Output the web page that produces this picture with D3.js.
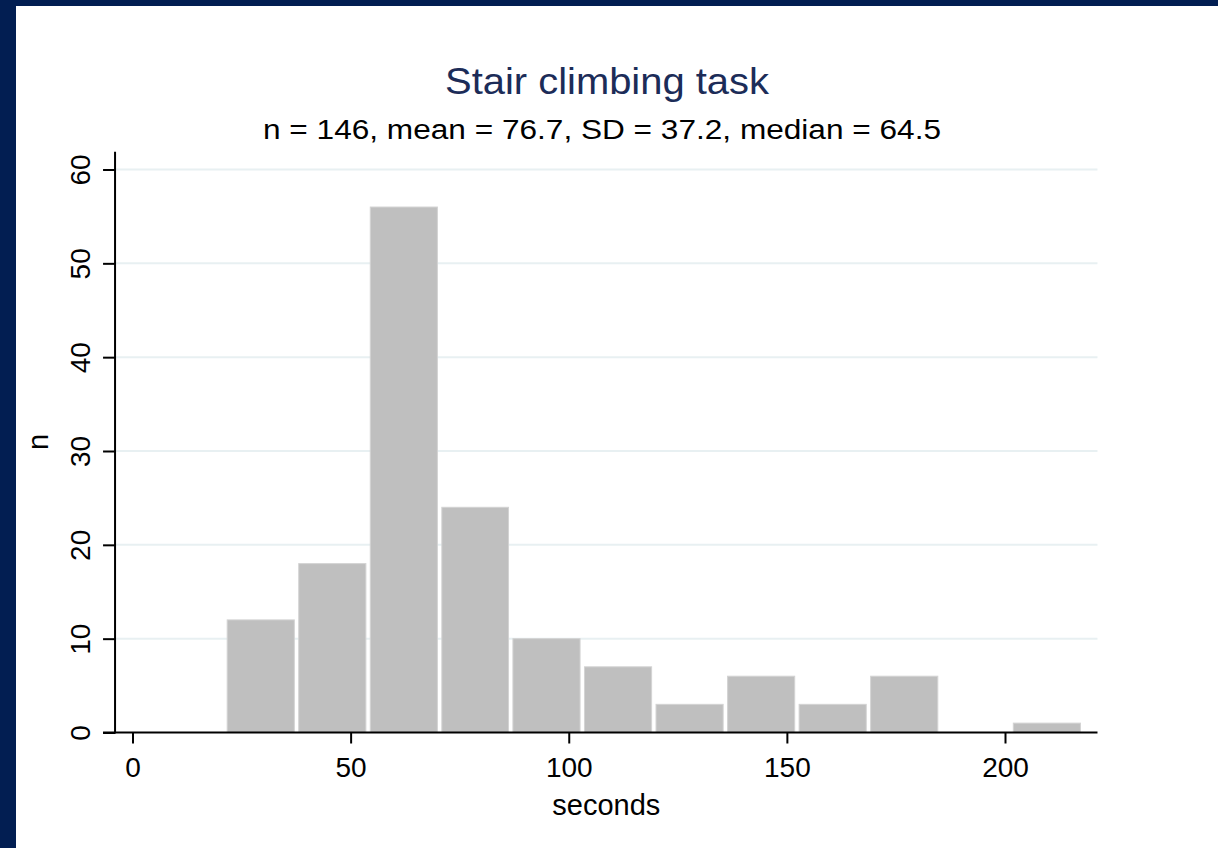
<!DOCTYPE html>
<html>
<head>
<meta charset="utf-8">
<script src="https://cdn.jsdelivr.net/npm/d3@7"></script>
<style>
  body { margin: 0; background: #ffffff; }
  text { font-family: "Liberation Sans", Arial, sans-serif; }
</style>
</head>
<body>
<div id="chart"></div>
<script>
// histogram bins (seconds) and counts
const binEdges = [21.2, 37.6, 54.0, 70.4, 86.7, 103.1, 119.5, 135.9, 152.3, 168.7, 185.1, 201.4, 217.8];
const counts = [12, 18, 56, 24, 10, 7, 3, 6, 3, 6, 0, 1];
const xTicks = [0, 50, 100, 150, 200];
const yTicks = [0, 10, 20, 30, 40, 50, 60];
const title = "Stair climbing task";
const subtitle = "n = 146, mean = 76.7, SD = 37.2, median = 64.5";

window.onload = function () {
    drawHistogram();
};

function drawHistogram() {
    let width = 1218, height = 848;

    let svg = d3.select("#chart")
        .append("svg")
        .attr("width", width)
        .attr("height", height);

    // navy frame on the left and top
    svg.append("rect").attr("x", 0).attr("y", 0).attr("width", width).attr("height", height).attr("fill", "#021e52");
    svg.append("rect").attr("x", 16).attr("y", 6).attr("width", width - 16).attr("height", height - 6).attr("fill", "#ffffff");

    let x = d3.scaleLinear().domain([0, 200]).range([132.5, 1005]);
    let y = d3.scaleLinear().domain([0, 60]).range([732.5, 169.5]);

    let left = x(-4), right = x(221.2);

    // grid lines
    svg.append("g")
        .selectAll("line")
        .data(yTicks.filter(function (d) { return d > 0; }))
        .enter()
        .append("line")
        .attr("x1", left)
        .attr("x2", right)
        .attr("y1", function (d) { return y(d); })
        .attr("y2", function (d) { return y(d); })
        .attr("stroke", "#e8f0f2")
        .attr("stroke-width", 2);

    // bars
    let bins = counts.map(function (c, i) { return {x0: binEdges[i], x1: binEdges[i + 1], n: c}; });
    svg.append("g")
        .selectAll("rect")
        .data(bins.filter(function (d) { return d.n > 0; }))
        .enter()
        .append("rect")
        .attr("x", function (d) { return x(d.x0) + 2.2; })
        .attr("width", function (d) { return x(d.x1) - x(d.x0) - 4.4; })
        .attr("y", function (d) { return y(d.n); })
        .attr("height", function (d) { return y(0) - y(d.n); })
        .attr("fill", "#bfbfbf")
        .attr("stroke", "#d3d3d3")
        .attr("stroke-width", 1);

    // y axis
    let yAxis = svg.append("g")
        .attr("transform", "translate(" + left + ",0)")
        .call(d3.axisLeft(y).tickValues(yTicks).tickSize(12).tickPadding(0).tickFormat(d3.format("d")));
    yAxis.select(".domain").remove();
    yAxis.selectAll(".tick line").attr("stroke", "#000").attr("stroke-width", 2);
    yAxis.selectAll(".tick text")
        .attr("x", 0).attr("y", 0)
        .attr("transform", "translate(-25,0) rotate(-90)")
        .style("text-anchor", "middle")
        .attr("dy", 0)
        .style("font-size", "28px")
        .attr("fill", "#000");
    svg.append("line")
        .attr("x1", left).attr("x2", left)
        .attr("y1", y(0) + 1).attr("y2", y(61.9))
        .attr("stroke", "#000").attr("stroke-width", 2);

    // x axis
    let xAxis = svg.append("g")
        .attr("transform", "translate(0," + y(0) + ")")
        .call(d3.axisBottom(x).tickValues(xTicks).tickSize(11).tickPadding(0).tickFormat(d3.format("d")));
    xAxis.select(".domain").remove();
    xAxis.selectAll(".tick line").attr("stroke", "#000").attr("stroke-width", 2);
    xAxis.selectAll(".tick text")
        .attr("y", 44)
        .attr("dy", 0)
        .style("font-size", "28px")
        .attr("fill", "#000");
    svg.append("line")
        .attr("x1", left - 12).attr("x2", right)
        .attr("y1", y(0)).attr("y2", y(0))
        .attr("stroke", "#000").attr("stroke-width", 2);

    // axis titles
    svg.append("text")
        .attr("x", (left + right) / 2)
        .attr("y", 815)
        .attr("text-anchor", "middle")
        .style("font-size", "29px")
        .attr("fill", "#000")
        .text("seconds");
    svg.append("text")
        .attr("transform", "translate(48,442) rotate(-90)")
        .attr("text-anchor", "middle")
        .style("font-size", "29px")
        .attr("fill", "#000")
        .text("n");

    // titles
    svg.append("text")
        .attr("x", 445)
        .attr("y", 94)
        .attr("textLength", 324)
        .attr("lengthAdjust", "spacingAndGlyphs")
        .style("font-size", "36px")
        .attr("fill", "#1c2c58")
        .text(title);
    svg.append("text")
        .attr("x", 263)
        .attr("y", 139)
        .attr("textLength", 678)
        .attr("lengthAdjust", "spacingAndGlyphs")
        .style("font-size", "27px")
        .attr("fill", "#000")
        .text(subtitle);
}
</script>
</body>
</html>
